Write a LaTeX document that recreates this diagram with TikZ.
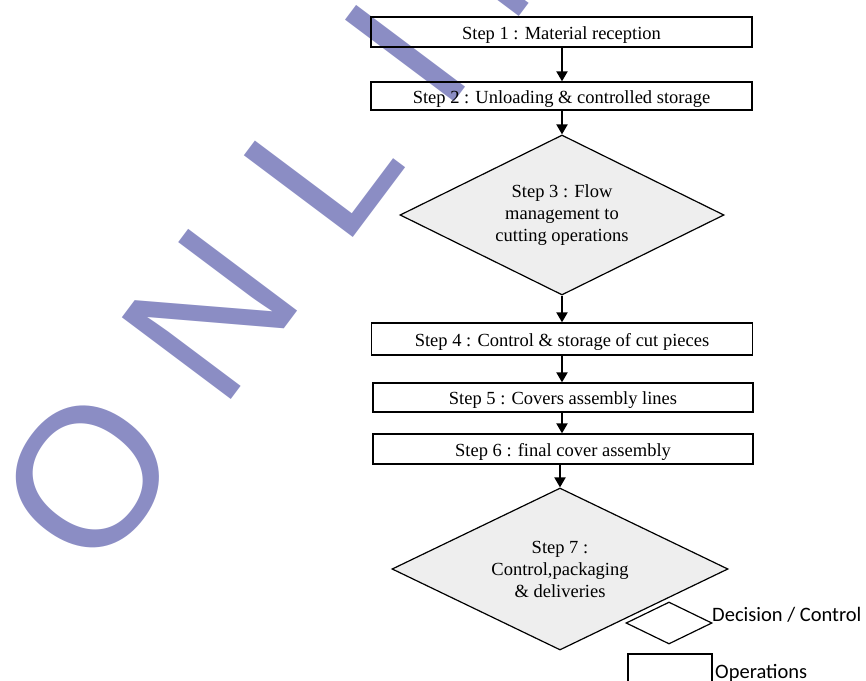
\documentclass[tikz,border=0pt]{standalone}
\usepackage{fontspec}
\setmainfont{Liberation Serif}
\newfontfamily\wmfont{Liberation Sans}
\newfontfamily\legfont{Carlito}
\usetikzlibrary{shapes.geometric,arrows.meta}
\definecolor{wm}{RGB}{139,141,196}
\definecolor{dfill}{RGB}{238,238,238}
\begin{document}
\begin{tikzpicture}[x=1pt,y=-1pt,
  stepbox/.style={draw,line width=1.3pt,inner sep=0pt,text height=14pt,text depth=0pt,font=\fontsize{18.5}{22}\selectfont},
  decision/.style={diamond,aspect=2,draw,line width=1.2pt,fill=dfill,inner sep=0pt,align=center,font=\fontsize{18.5}{22}\selectfont},
  flow/.style={line width=2pt,-{Triangle[length=10pt,width=11pt]}},
  wmletter/.style={text=wm,font=\wmfont\fontsize{198}{200}\selectfont,rotate=53.13,anchor=base west,inner sep=0pt,outer sep=0pt},
  legtext/.style={font=\legfont\fontsize{20.5}{24}\selectfont,anchor=base west,inner sep=0pt}]
\useasboundingbox (0,0) rectangle (866,680);
\begin{scope}
\clip (0,0) rectangle (866,680);
% watermark
\node[wmletter] (wo) at (96.4,579.8) {O};
\node[wmletter] (wn) at (221.8,412.6) {N};
\node[wmletter] (wl) at (343.3,250.6) {L};
\node[wmletter] (wi) at (443.8,116.6) {I};
\node[wmletter] (wn2) at (509.2,29.4) {N};
% flow
\node[stepbox,minimum width=381pt,minimum height=30pt] (s1) at (561.5,32) {Step 1 : Material reception};
\node[stepbox,minimum width=381pt,minimum height=28pt] (s2) at (561.5,96) {Step 2 : Unloading \& controlled storage};
\node[decision,minimum width=324pt,minimum height=160pt] (s3) at (562,215) {Step 3 : Flow\\management to\\cutting operations};
\node[stepbox,minimum width=381pt,minimum height=32pt] (s4) at (562,339) {Step 4 : Control \& storage of cut pieces};
\node[stepbox,minimum width=380pt,minimum height=29pt] (s5) at (563,397.5) {Step 5 : Covers assembly lines};
\node[stepbox,minimum width=380pt,minimum height=30pt] (s6) at (563,449) {Step 6 : final cover assembly};
\node[decision,minimum width=336pt,minimum height=162pt] (s7) at (560,569) {Step 7 :\\Control,packaging\\\& deliveries};
\draw[flow] (s1.south -| s3.north) -- (s2.north -| s3.north);
\draw[flow] (s2.south -| s3.north) -- (s3.north);
\draw[flow] (s3.south) -- (s4.north -| s3.south);
\draw[flow] (s4.south -| s3.south) -- (s5.north -| s3.south);
\draw[flow] (s5.south -| s3.south) -- (s6.north -| s3.south);
\draw[flow] (s6.south -| s7.north) -- (s7.north);
% legend
\node[diamond,aspect=2,draw,fill=white,line width=1.2pt,inner sep=0pt,minimum width=86pt,minimum height=42pt] (ldec) at (669,623) {};
\node[legtext] (ldect) at (712,621) {Decision / Control};
\node[draw,line width=1.2pt,inner sep=0pt,minimum width=84pt,minimum height=46pt] (lop) at (670,677) {};
\node[legtext] (lopt) at (715,678) {Operations};
\end{scope}
\end{tikzpicture}
\end{document}
